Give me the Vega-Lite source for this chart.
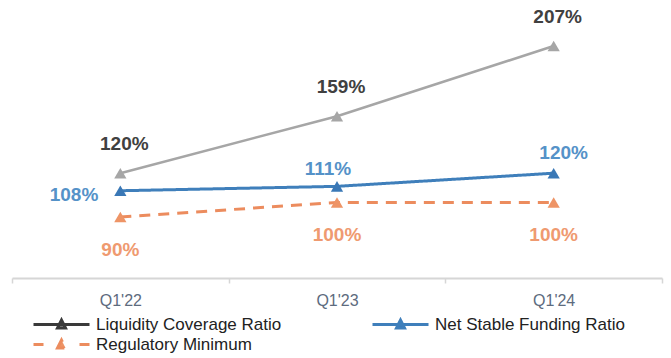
{
  "$schema": "https://vega.github.io/schema/vega-lite/v6.json",
  "width": 650,
  "height": 278,
  "autosize": {"type": "none"},
  "padding": {"left": 12, "top": 0, "right": 9, "bottom": 80},
  "background": "white",
  "config": {
    "view": {"stroke": null},
    "font": "Liberation Sans"
  },
  "data": {
    "values": [
      {"quarter": "Q1'22", "series": "Liquidity Coverage Ratio", "value": 120},
      {"quarter": "Q1'23", "series": "Liquidity Coverage Ratio", "value": 159},
      {"quarter": "Q1'24", "series": "Liquidity Coverage Ratio", "value": 207},
      {"quarter": "Q1'22", "series": "Net Stable Funding Ratio", "value": 108},
      {"quarter": "Q1'23", "series": "Net Stable Funding Ratio", "value": 111},
      {"quarter": "Q1'24", "series": "Net Stable Funding Ratio", "value": 120},
      {"quarter": "Q1'22", "series": "Regulatory Minimum", "value": 90},
      {"quarter": "Q1'23", "series": "Regulatory Minimum", "value": 100},
      {"quarter": "Q1'24", "series": "Regulatory Minimum", "value": 100}
    ]
  },
  "transform": [{"calculate": "datum.value + '%'", "as": "label"}],
  "encoding": {
    "x": {
      "field": "quarter",
      "type": "nominal",
      "sort": null,
      "scale": {"paddingInner": 0, "paddingOuter": 0},
      "axis": {
        "title": null,
        "labelAngle": 0,
        "labelFontSize": 16,
        "labelColor": "#5d6b7e",
        "labelPadding": 9,
        "domainColor": "#d6d6d6",
        "domainWidth": 2,
        "tickColor": "#d6d6d6",
        "tickWidth": 1.5,
        "tickSize": 5,
        "tickBand": "extent",
        "grid": false
      }
    },
    "y": {
      "field": "value",
      "type": "quantitative",
      "scale": {"domain": [48.3, 238.5], "nice": false, "zero": false},
      "axis": null
    }
  },
  "layer": [
    {
      "transform": [{"filter": "datum.series === 'Liquidity Coverage Ratio'"}],
      "mark": {"type": "line", "strokeWidth": 2.5, "color": "#a6a6a6"}
    },
    {
      "transform": [{"filter": "datum.series !== 'Liquidity Coverage Ratio'"}],
      "mark": {"type": "line", "strokeWidth": 3},
      "encoding": {
        "color": {
          "field": "series",
          "type": "nominal",
          "scale": {
            "domain": ["Liquidity Coverage Ratio", "Net Stable Funding Ratio", "Regulatory Minimum"],
            "range": ["#3a3a3a", "#3f7fbb", "#ec8c5e"]
          },
          "legend": {
            "title": null,
            "orient": "none",
            "legendX": 41,
            "legendY": 316,
            "direction": "horizontal",
            "columns": 2,
            "columnPadding": 84,
            "rowPadding": 0,
            "padding": 0,
            "labelFontSize": 17,
            "labelColor": "#222222",
            "labelLimit": 0,
            "labelOffset": 26,
            "symbolSize": 100,
            "symbolStrokeWidth": 3,
            "symbolType": "M-5.6,0H5.6M-0.8,0.7L0,-0.9L0.8,0.7Z",
            "encode": {
              "symbols": {
                "update": {
                  "shape": {"signal": "datum.value === 'Regulatory Minimum' ? 'M-5.6,0H-3.6M3.6,0H5.6M-0.8,0.7L0,-0.9L0.8,0.7Z' : 'M-5.6,0H5.6M-0.8,0.7L0,-0.9L0.8,0.7Z'"}
                }
              }
            }
          }
        },
        "strokeDash": {
          "field": "series",
          "type": "nominal",
          "scale": {
            "domain": ["Liquidity Coverage Ratio", "Net Stable Funding Ratio", "Regulatory Minimum"],
            "range": [[1, 0], [1, 0], [11, 8]]
          },
          "legend": null
        }
      }
    },
    {
      "mark": {"type": "point", "shape": "triangle-up", "size": 150, "filled": true, "opacity": 1},
      "encoding": {
        "fill": {
          "field": "series",
          "type": "nominal",
          "scale": {
            "domain": ["Liquidity Coverage Ratio", "Net Stable Funding Ratio", "Regulatory Minimum"],
            "range": ["#a6a6a6", "#3a78b6", "#ee9466"]
          },
          "legend": null
        }
      }
    },
    {
      "transform": [{"filter": "datum.series === 'Liquidity Coverage Ratio'"}],
      "mark": {"type": "text", "fontSize": 19, "fontWeight": "bold", "dy": -29, "dx": 4, "color": "#404040"},
      "encoding": {"text": {"field": "label"}}
    },
    {
      "transform": [{"filter": "datum.series === 'Net Stable Funding Ratio' && datum.quarter === \"Q1'22\""}],
      "mark": {"type": "text", "fontSize": 19, "fontWeight": "bold", "align": "right", "dx": -22, "dy": 4, "color": "#5592c8"},
      "encoding": {"text": {"field": "label"}}
    },
    {
      "transform": [{"filter": "datum.series === 'Net Stable Funding Ratio' && datum.quarter === \"Q1'23\""}],
      "mark": {"type": "text", "fontSize": 19, "fontWeight": "bold", "dx": -9, "dy": -17, "color": "#5592c8"},
      "encoding": {"text": {"field": "label"}}
    },
    {
      "transform": [{"filter": "datum.series === 'Net Stable Funding Ratio' && datum.quarter === \"Q1'24\""}],
      "mark": {"type": "text", "fontSize": 19, "fontWeight": "bold", "dx": 10, "dy": -20, "color": "#5592c8"},
      "encoding": {"text": {"field": "label"}}
    },
    {
      "transform": [{"filter": "datum.series === 'Regulatory Minimum'"}],
      "mark": {"type": "text", "fontSize": 19, "fontWeight": "bold", "dy": 33, "color": "#ef9a70"},
      "encoding": {"text": {"field": "label"}}
    }
  ]
}
